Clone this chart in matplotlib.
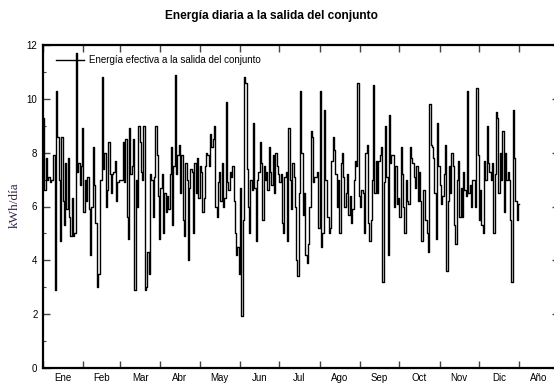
import matplotlib
matplotlib.use('Agg')
import matplotlib.pyplot as plt
import numpy as np
from matplotlib.ticker import FixedLocator, MultipleLocator, NullFormatter

plt.rcParams['font.family'] = ['Liberation Sans', 'DejaVu Sans']

# ---- data (kWh/día, one value per day of the year) ----
meses = ['Ene', 'Feb', 'Mar', 'Abr', 'May', 'Jun', 'Jul', 'Ago', 'Sep', 'Oct', 'Nov', 'Dic', 'Año']
dias_mes = [31, 28, 31, 30, 31, 30, 31, 31, 30, 31, 30, 31]

energia_dias_000_061 = [9.3, 6.6, 7.8, 7.0, 7.1, 6.9, 7.0, 7.0, 7.9, 2.9, 10.3, 8.6, 7.0, 4.7, 8.6, 6.2,
                        5.3, 7.6, 5.9, 7.8, 5.6, 4.9, 6.3, 4.9, 5.0, 11.7, 7.3, 7.6, 6.8, 7.5, 8.9, 5.8,
                        7.0, 6.2, 7.1, 5.9, 4.2, 6.0, 8.2, 6.8, 5.4, 3.0, 3.5, 3.5, 7.0, 10.8, 7.4, 8.0,
                        6.0, 6.6, 8.4, 7.2, 6.5, 7.2, 7.3, 7.7, 6.2, 6.9, 7.0, 7.0, 7.0, 8.4]
energia_dias_062_122 = [6.9, 8.5, 5.6, 4.8, 8.9, 7.2, 7.5, 8.5, 2.9, 7.0, 6.0, 9.0, 8.4, 7.3, 7.0, 9.0,
                        2.9, 3.0, 4.3, 3.5, 7.2, 7.0, 5.6, 7.1, 9.0, 7.9, 6.4, 4.8, 6.7, 7.2, 5.0, 6.5,
                        5.8, 6.4, 5.9, 7.2, 8.2, 5.3, 7.5, 10.9, 7.2, 7.9, 8.3, 6.5, 7.9, 5.5, 4.9, 7.6,
                        7.0, 4.0, 6.7, 7.4, 7.3, 5.0, 7.6, 6.5, 7.8, 6.3, 7.5, 7.3, 5.8]
energia_dias_123_183 = [6.3, 7.5, 8.0, 7.9, 7.5, 8.7, 8.2, 8.5, 9.0, 6.0, 5.6, 6.9, 7.3, 6.2, 7.6, 6.0,
                        6.3, 9.9, 6.9, 6.6, 7.3, 7.1, 7.5, 6.2, 5.0, 4.2, 4.5, 3.5, 6.7, 1.95, 5.5, 10.8,
                        10.6, 7.4, 6.0, 5.0, 7.0, 6.6, 9.1, 6.7, 4.7, 7.0, 7.3, 8.4, 7.6, 5.5, 7.5, 7.0,
                        7.3, 6.6, 8.2, 7.3, 6.8, 7.9, 6.5, 8.0, 7.5, 7.2, 6.9, 7.2, 5.4]
energia_dias_184_243 = [5.0, 7.1, 7.3, 4.7, 8.9, 7.0, 5.9, 7.6, 7.1, 6.0, 4.0, 3.4, 6.5, 10.3, 8.0, 5.7,
                        6.5, 4.2, 3.9, 4.6, 6.0, 8.8, 8.6, 6.9, 7.1, 7.1, 7.3, 5.2, 10.3, 4.5, 5.0, 9.6,
                        7.0, 7.0, 5.6, 5.0, 5.2, 7.7, 8.6, 8.1, 7.2, 6.0, 7.0, 5.0, 7.6, 8.0, 7.1, 6.0,
                        6.5, 7.2, 5.7, 6.4, 5.4, 5.9, 7.0, 7.7, 7.5, 10.6, 6.4, 6.0]
energia_dias_244_305 = [6.6, 6.5, 5.0, 8.0, 8.3, 5.4, 4.7, 5.5, 7.0, 10.5, 6.5, 7.7, 6.5, 7.7, 7.9, 8.2,
                        3.2, 6.9, 9.0, 7.1, 4.2, 9.4, 7.6, 7.9, 7.9, 6.0, 7.5, 6.1, 6.3, 5.6, 8.2, 7.2,
                        6.0, 5.0, 7.0, 6.2, 6.1, 8.2, 7.8, 7.6, 7.1, 6.7, 7.5, 6.2, 7.3, 6.2, 4.7, 6.6,
                        6.6, 5.5, 5.0, 4.3, 9.8, 8.3, 8.2, 7.8, 6.5, 4.8, 9.1, 7.5, 6.8, 6.1]
energia_dias_306_364 = [6.4, 7.2, 8.3, 3.6, 6.2, 7.5, 6.5, 8.0, 7.5, 5.3, 4.6, 7.0, 7.7, 5.6, 6.7, 5.6,
                        7.3, 6.6, 6.4, 10.3, 6.5, 6.8, 6.0, 7.0, 7.0, 6.0, 10.4, 7.9, 5.5, 6.6, 5.3, 5.0,
                        7.7, 7.0, 9.0, 7.6, 7.3, 7.0, 7.6, 5.0, 7.2, 9.5, 9.3, 6.5, 8.0, 7.0, 8.8, 5.8,
                        8.0, 7.0, 7.3, 7.0, 5.5, 3.2, 9.6, 7.8, 6.2, 5.5, 6.1]

energia = np.array(energia_dias_000_061 + energia_dias_062_122 + energia_dias_123_183 +
                   energia_dias_184_243 + energia_dias_244_305 + energia_dias_306_364)

# ---- figure ----
fig = plt.figure(figsize=(5.54, 3.83), dpi=100)
ax = fig.add_axes([43 / 554, 15 / 383, (559 - 43) / 554, 323 / 383])

dias = np.arange(len(energia) + 1)
ax.step(dias, np.append(energia, energia[-1]), where='post', color='black', lw=1.0,
        label='Energía efectiva a la salida del conjunto')

limites = np.concatenate([[0], np.cumsum(dias_mes)])
ancho_ano = limites[-1] / 12
ax.set_xlim(0, limites[-1] + ancho_ano)
ax.set_ylim(0, 12)

centros = list((limites[:-1] + limites[1:]) / 2) + [limites[-1] + ancho_ano / 2]
ax.xaxis.set_major_locator(FixedLocator(limites))
ax.xaxis.set_major_formatter(NullFormatter())
ax.xaxis.set_minor_locator(FixedLocator(centros))
ax.set_xticklabels(meses, minor=True)
ax.tick_params(axis='x', which='major', direction='in', top=True, bottom=True,
               length=5, width=1.0, color='#444444')
ax.tick_params(axis='x', which='minor', length=0, labelsize=7, pad=3.5)

ax.yaxis.set_major_locator(MultipleLocator(2))
ax.yaxis.set_minor_locator(MultipleLocator(1))
ax.tick_params(axis='y', which='major', direction='in', left=True, right=True,
               length=5, width=1.0, labelsize=7, pad=4, color='#444444')
ax.tick_params(axis='y', which='minor', direction='in', left=True, right=True,
               length=2.5, width=0.8, color='#444444')

for s in ax.spines.values():
    s.set_linewidth(1.6)
    s.set_color('black')

ax.legend(loc='upper left', bbox_to_anchor=(0.025, 0.968), frameon=False, fontsize=7,
          handlelength=2.9, handletextpad=0.5, borderaxespad=0, borderpad=0)

fig.text(271 / 554, 1 - 16 / 383, 'Energía diaria a la salida del conjunto',
         ha='center', va='center', fontsize=8.6, fontweight='bold')
fig.text(15 / 554, 1 - 205 / 383, 'kWh/día', rotation=90, ha='center', va='center',
         fontsize=9.5, family=['Liberation Serif', 'DejaVu Serif'], color='#3a2050')

fig.savefig('out.png', dpi=100)
